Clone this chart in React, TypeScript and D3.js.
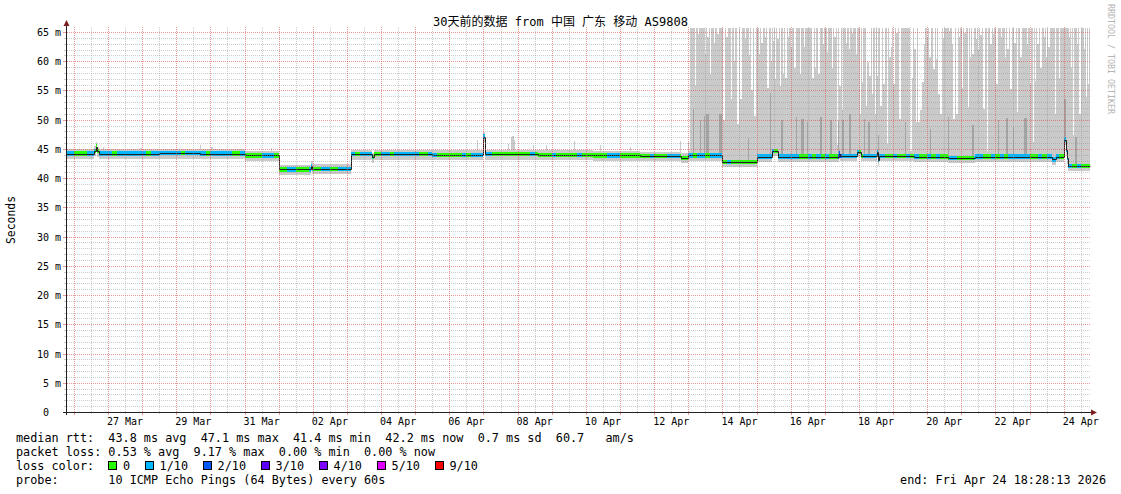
import { useEffect, useRef } from "react";
import * as d3 from "d3";

const W = 1121;
const H = 494;

const TITLE = "30天前的数据 from 中国 广东 移动 AS9808";
const START = "2026-03-25T18:28:13Z";
const END = "2026-04-24T18:28:13Z";

// Day numbers below are counted from 31 Mar 00:00 (1 = 1 Apr, -4 = 27 Mar)
const X_LABEL_DAYS = [
  "2026-03-27", "2026-03-29", "2026-03-31", "2026-04-02", "2026-04-04",
  "2026-04-06", "2026-04-08", "2026-04-10", "2026-04-12", "2026-04-14",
  "2026-04-16", "2026-04-18", "2026-04-20", "2026-04-22", "2026-04-24",
];
const Y_TICKS = [0, 5, 10, 15, 20, 25, 30, 35, 40, 45, 50, 55, 60, 65];

// median rtt in ms: [day, value from that day on]
const MEDIAN_STEPS: [number, number][] = [
  [-5.24, 44.2], [-4.40, 44.7], [-4.36, 45.4], [-4.31, 44.6], [-4.27, 44.2],
  [-2.5, 44.3], [-1.3, 44.2], [0.0, 43.9], [1.0, 41.5], [1.94, 42.1], [1.98, 41.6],
  [3.11, 44.1], [3.72, 43.6], [3.78, 44.1], [5.5, 44.0], [7.0, 47.1], [7.045, 44.1],
  [8.6, 44.0], [10.2, 43.9], [11.6, 43.8], [12.78, 43.5], [12.98, 43.9],
  [14.0, 42.8], [15.0, 43.7], [15.46, 44.7], [15.64, 43.7], [17.42, 44.2], [17.46, 43.8],
  [17.95, 44.5], [18.06, 43.8], [18.52, 44.5], [18.56, 43.1], [18.6, 43.8],
  [19.6, 43.7], [20.6, 43.5], [21.4, 43.7], [23.66, 43.2], [23.78, 43.7],
  [24.0, 46.6], [24.07, 44.8], [24.1, 43.4], [24.13, 42.1],
];

// lost pings (of 10) per 3-hour bucket, one string per day from 25 Mar
const LOSS_BY_DAY = [
  "11111111", "00011011", "10111111", "10111111", "10111110", "11111001", "00001110",
  "00110001", "00110011", "11011100", "11011111", "10011000", "00010111", "11000000",
  "00010000", "10000010", "00000111", "00000001", "00011100", "10110111", "01000000",
  "11110111", "11001010", "10021111", "01111100", "10010100", "10100110", "00011001",
  "01011111", "00101110", "11010000",
];
const LOSS_LEVELS = [0, 1, 2, 3, 4, 5, 9];
const LOSS_LABELS = ["0", "1/10", "2/10", "3/10", "4/10", "5/10", "9/10"];
const LOSS_COLORS = ["#26ff00", "#00b8ff", "#0059ff", "#5e00ff", "#7e00ff", "#dd00ff", "#ff0000"];

// outer smoke peaks in the quiet period: [day, max ms]
const SMOKE_BUMPS: [number, number][] = [
  [-4.36, 46.0], [-4.15, 45.4], [-3.06, 45.1], [-1.31, 45.6], [-0.98, 45.4], [0.77, 45.1],
  [1.97, 42.9], [6.81, 46.5], [7.0, 47.9], [7.71, 45.8], [7.81, 47.0], [7.85, 47.2],
  [7.89, 46.6], [8.45, 45.6], [8.83, 45.6], [9.65, 46.4], [10.4, 45.6], [11.29, 45.3],
  [12.75, 46.3], [12.98, 46.2],
];

// from this day the max ping is off the chart, except at these hours: [day, max ms]
const NOISY_FROM = 13.06;
const NOISY_DIPS: [number, number][] = [
  [13.19, 55.8], [13.28, 64.7], [13.48, 61.2], [13.56, 64.2], [13.63, 57.8], [13.75, 63.2],
  [13.85, 64.7], [14.03, 49.9], [14.12, 64.2], [14.24, 53.5], [14.33, 60.1], [14.44, 49.3],
  [14.53, 53.5], [14.65, 63.8], [14.77, 61.0], [14.85, 55.0], [14.94, 50.7], [15.06, 61.2],
  [15.14, 63.2], [15.24, 64.2], [15.32, 55.5], [15.41, 60.1], [15.47, 63.5], [15.53, 57.0],
  [15.61, 63.8], [15.68, 55.8], [15.77, 57.8], [15.84, 57.2], [15.92, 64.2],
  [16.01, 62.4], [16.11, 58.9], [16.26, 57.8], [16.38, 62.4], [16.63, 57.2], [16.71, 58.9],
  [16.81, 57.8], [16.94, 62.9], [17.06, 61.5], [17.2, 58.9], [17.28, 64.1], [17.35, 45.6],
  [17.43, 55.8], [17.49, 51.6], [17.61, 63.2], [17.7, 62.1], [17.79, 64.9], [17.91, 61.2],
  [18.02, 51.0], [18.08, 56.4], [18.2, 52.4], [18.25, 59.8], [18.3, 57.5], [18.37, 54.4],
  [18.46, 51.0], [18.53, 57.5], [18.63, 52.4], [18.71, 56.1], [18.82, 45.9], [18.89, 60.7],
  [18.92, 62.4], [19.01, 56.1], [19.1, 64.9], [19.18, 50.1], [19.5, 44.7], [19.53, 57.2],
  [19.62, 62.1], [19.67, 49.6], [19.74, 49.6], [19.8, 51.6], [19.85, 56.4], [19.89, 62.9],
  [19.98, 64.1], [20.06, 60.7], [20.18, 58.6], [20.26, 60.4], [20.33, 54.4], [20.38, 51.0],
  [20.45, 63.8], [20.63, 65.2], [20.73, 62.9], [20.77, 50.1], [20.85, 51.0], [20.92, 64.1],
  [21.02, 55.5], [21.09, 64.9], [21.19, 52.2], [21.25, 60.7], [21.32, 61.2], [21.42, 63.8],
  [21.48, 62.1], [21.56, 64.5], [21.64, 51.9], [21.75, 44.7], [21.85, 62.9], [21.93, 64.7],
  [22.02, 56.1], [22.16, 64.1], [22.27, 60.7], [22.35, 62.1], [22.44, 55.3], [22.55, 63.2],
  [22.63, 51.3], [22.73, 60.7], [22.92, 62.9], [23.0, 56.1], [23.09, 46.2], [23.16, 56.7],
  [23.23, 62.9], [23.31, 58.9], [23.41, 64.1], [23.47, 60.7], [23.55, 62.4], [23.73, 51.0],
  [23.85, 57.2], [24.14, 64.1], [24.21, 58.9], [24.27, 47.4], [24.39, 62.9], [24.46, 51.0],
  [24.58, 62.1], [24.64, 53.8], [24.7, 56.1],
];

// second smoke layer (pings 2..9) reaching up: [day, ms]
const INNER_SPIKES: [number, number][] = [
  [13.13, 51.8], [13.33, 49.9], [13.45, 50.7], [13.53, 51.0], [13.57, 51.0], [13.9, 51.0],
  [13.94, 51.0], [14.75, 46.9], [15.38, 54.6], [15.73, 49.9], [16.15, 50.4], [16.3, 50.2],
  [16.34, 50.2], [16.48, 49.6], [16.87, 50.4], [17.16, 49.9], [17.38, 49.8], [17.49, 49.9],
  [17.53, 49.9], [17.72, 51.0], [18.14, 50.2], [18.28, 49.6], [18.55, 47.4], [19.34, 49.6],
  [20.08, 48.4], [20.61, 50.4], [21.32, 49.1], [22.06, 49.9], [22.32, 50.3], [22.5, 48.8],
  [22.83, 50.3], [22.87, 50.3], [24.02, 53.5], [24.34, 47.1],
];

const STATS_RTT = "median rtt:  43.8 ms avg  47.1 ms max  41.4 ms min  42.2 ms now  0.7 ms sd  60.7   am/s";
const STATS_LOSS = "packet loss: 0.53 % avg  9.17 % max  0.00 % min  0.00 % now";
const PROBE = "probe:       10 ICMP Echo Pings (64 Bytes) every 60s";
const END_TEXT = "end: Fri Apr 24 18:28:13 2026";

const MONO = "'DejaVu Sans Mono', 'Noto Sans CJK SC', monospace";
const SMOKE_OUTER = "#cacaca";
const SMOKE_INNER = "#a4a4a4";
const GRID_MINOR = "rgba(143,143,143,0.45)";
const GRID_MAJOR = "rgba(222,79,79,0.6)";
const HOUR = 1 / 24;

function draw(el: SVGSVGElement) {
  const svg = d3.select(el);
  svg.selectAll("*").remove();

  const left = 66, right = 1090, bottom = 412, top = 28;
  const origin = Date.UTC(2026, 2, 31);
  const toDate = (d: number) => new Date(origin + d * 864e5);
  const toDay = (t: Date) => (t.getTime() - origin) / 864e5;
  const x = d3.scaleUtc().domain([new Date(START), new Date(END)]).range([left, right]);
  const y = d3.scaleLinear().domain([0, 65]).range([bottom, 32]);
  const px = (d: number) => Math.round(x(toDate(d)));
  const py = (v: number) => Math.max(top, Math.round(y(v)));
  const d0 = toDay(new Date(START));
  const d1 = toDay(new Date(END));

  const bisect = d3.bisector((s: [number, number]) => s[0]).right;
  const medianAt = (d: number) => MEDIAN_STEPS[Math.max(0, bisect(MEDIAN_STEPS, d) - 1)][1];
  const lossAt = (d: number) => {
    const i = Math.floor(d + 6);
    const row = LOSS_BY_DAY[i] ?? "0";
    return +(row[Math.floor((d + 6 - i) * row.length)] ?? "0");
  };
  const lossColor = (k: number) => LOSS_COLORS[Math.max(0, LOSS_LEVELS.findIndex((l) => l >= k))];

  // time spans where both the median and the loss stay the same
  const cuts = new Set<number>([d0, d1]);
  MEDIAN_STEPS.forEach(([d]) => cuts.add(d));
  LOSS_BY_DAY.forEach((row, i) => {
    for (let b = 0; b < row.length; b++) cuts.add(-6 + i + b / row.length);
  });
  const edges = [...cuts].filter((d) => d >= d0 && d <= d1).sort((a, b) => a - b);
  const spans = d3.pairs(edges).map(([a, b]) => {
    const mid = (a + b) / 2;
    return { a, b, m: medianAt(mid), loss: lossAt(mid) };
  });

  svg.append("rect").attr("width", W).attr("height", H).attr("fill", "#ffffff");

  const data = svg.append("g").attr("shape-rendering", "crispEdges");

  // outer smoke band around the median
  data.append("g").selectAll("rect").data(spans).join("rect")
    .attr("x", (s) => px(s.a))
    .attr("width", (s) => Math.max(0, px(s.b) - px(s.a)))
    .attr("y", (s) => py(s.m + 0.75))
    .attr("height", (s) => py(s.m - 0.95) - py(s.m + 0.75))
    .attr("fill", SMOKE_OUTER);

  data.append("g").selectAll("rect").data(SMOKE_BUMPS).join("rect")
    .attr("x", (p) => px(p[0]))
    .attr("width", (p) => Math.max(1, px(p[0] + HOUR) - px(p[0])))
    .attr("y", (p) => py(p[1]))
    .attr("height", (p) => py(medianAt(p[0])) - py(p[1]))
    .attr("fill", SMOKE_OUTER);

  // noisy period: smoke up to the top with white dips
  const nt = new Set<number>([NOISY_FROM, d1]);
  NOISY_DIPS.forEach(([d]) => { nt.add(d); nt.add(d + HOUR); });
  MEDIAN_STEPS.forEach(([d]) => nt.add(d));
  const ts = [...nt].filter((t) => t >= NOISY_FROM && t <= d1).sort((a, b) => a - b);
  const noisy = ts.map((t, i) => {
    const mid = (t + (ts[i + 1] ?? t)) / 2;
    const hits = NOISY_DIPS.filter(([d]) => d <= mid && mid < d + HOUR).map((p) => p[1]);
    return { t, top: hits.length ? (d3.min(hits) as number) : 70, bot: medianAt(mid) - 0.95 };
  });
  data.append("path")
    .datum(noisy)
    .attr("fill", SMOKE_OUTER)
    .attr("d", d3.area<{ t: number; top: number; bot: number }>()
      .x((p) => px(p.t))
      .y0((p) => py(p.bot))
      .y1((p) => py(p.top))
      .curve(d3.curveStepAfter));

  data.append("g").selectAll("rect").data(INNER_SPIKES).join("rect")
    .attr("x", (p) => px(p[0]))
    .attr("width", (p) => Math.max(1, px(p[0] + HOUR) - px(p[0])))
    .attr("y", (p) => py(p[1]))
    .attr("height", (p) => py(medianAt(p[0])) - py(p[1]))
    .attr("fill", SMOKE_INNER);

  // thin median line, then the loss-coloured band on top of it
  const steps: [number, number][] = MEDIAN_STEPS.map(([d, v]) => [Math.max(d, d0), v]);
  steps.push([d1, MEDIAN_STEPS[MEDIAN_STEPS.length - 1][1]]);
  svg.append("path")
    .datum(steps)
    .attr("fill", "none")
    .attr("stroke", "#202020")
    .attr("stroke-width", 1)
    .attr("d", d3.line<[number, number]>()
      .x((p) => px(p[0]) + 0.5)
      .y((p) => Math.round(y(p[1])) + 0.5)
      .curve(d3.curveStepAfter));

  data.append("g").selectAll("rect").data(spans).join("rect")
    .attr("x", (s) => px(s.a))
    .attr("width", (s) => Math.max(0, px(s.b) - px(s.a)))
    .attr("y", (s) => Math.round(y(s.m + 0.37)))
    .attr("height", (s) => Math.round(y(s.m - 0.37)) - Math.round(y(s.m + 0.37)))
    .attr("fill", (s) => lossColor(s.loss));

  // grid, drawn over the graph like rrdtool does
  const grid = svg.append("g").attr("shape-rendering", "crispEdges");
  const hMinor = d3.range(1, 66).filter((v) => v % 5 !== 0);
  const hMajor = Y_TICKS.filter((v) => v > 0);
  const days = d3.utcDay.range(new Date(START), new Date(END));
  const vMajor = days.map((t) => x(t));
  const vMinor = days.map((t) => x(d3.utcHour.offset(t, 12))).filter((v) => v < right);
  vMinor.unshift(x(d3.utcHour.offset(days[0], -12)));

  const hLine = (vals: number[], color: string, tick: number) => {
    vals.forEach((v) => {
      const yy = Math.round(y(v)) + 0.5;
      grid.append("line").attr("x1", left + 1).attr("x2", right).attr("y1", yy).attr("y2", yy)
        .style("stroke", color).style("stroke-width", "1px").style("stroke-dasharray", "1 1");
      grid.append("line").attr("x1", left - tick).attr("x2", left).attr("y1", yy).attr("y2", yy)
        .style("stroke", color).style("stroke-width", "1px");
    });
  };
  const vLine = (vals: number[], color: string, tick: number) => {
    vals.filter((v) => v > left).forEach((v) => {
      const xx = Math.round(v) + 0.5;
      grid.append("line").attr("x1", xx).attr("x2", xx).attr("y1", top - 1).attr("y2", bottom)
        .style("stroke", color).style("stroke-width", "1px").style("stroke-dasharray", "1 1");
      grid.append("line").attr("x1", xx).attr("x2", xx).attr("y1", bottom).attr("y2", bottom + tick)
        .style("stroke", color).style("stroke-width", "1px");
    });
  };
  hLine(hMinor, GRID_MINOR, 2);
  vLine(vMinor, GRID_MINOR, 2);
  hLine(hMajor, GRID_MAJOR, 3);
  vLine(vMajor, GRID_MAJOR, 3);

  // axes with arrows
  const axes = svg.append("g").attr("shape-rendering", "crispEdges");
  axes.append("line").attr("x1", left - 3).attr("x2", right + 3).attr("y1", bottom + 0.5).attr("y2", bottom + 0.5)
    .attr("stroke", "#202020");
  axes.append("line").attr("x1", left + 0.5).attr("x2", left + 0.5).attr("y1", bottom + 3).attr("y2", top - 4)
    .attr("stroke", "#202020");
  svg.append("path").attr("fill", "#801f1f")
    .attr("d", `M${right + 1},${bottom - 2.5}L${right + 7},${bottom + 0.5}L${right + 1},${bottom + 3.5}Z`);
  svg.append("path").attr("fill", "#801f1f")
    .attr("d", `M${left - 2.5},${top - 2}L${left + 0.5},${top - 8}L${left + 3.5},${top - 2}Z`);

  // text helper keeping runs of spaces
  const txt = (parent: d3.Selection<SVGGElement, unknown, null, undefined>, s: string, tx: number, ty: number) =>
    parent.append("text")
      .attr("x", tx).attr("y", ty)
      .attr("xml:space", "preserve")
      .style("white-space", "pre")
      .text(s);

  const text = svg.append("g").attr("font-family", MONO).attr("fill", "#000");
  const yl = text.append("g").attr("font-size", 10).attr("text-anchor", "end");
  Y_TICKS.forEach((v) => txt(yl, v === 0 ? "0  " : `${v} m`, 61, Math.round(y(v)) + 4));

  const fmt = d3.utcFormat("%d %b");
  text.selectAll("text.xl").data(X_LABEL_DAYS.map((s) => new Date(`${s}T12:00:00Z`))).join("text")
    .attr("class", "xl")
    .attr("x", (t) => x(t))
    .attr("y", 425)
    .attr("text-anchor", "middle")
    .attr("font-size", 10)
    .text((t) => fmt(d3.utcHour.offset(t, -12)));

  const title = text.append("g").attr("font-size", 12).attr("text-anchor", "middle");
  txt(title, TITLE, 560.5, 26);

  text.append("text")
    .attr("transform", `translate(15,${(top + bottom) / 2}) rotate(-90)`)
    .attr("text-anchor", "middle").attr("font-size", 11.4)
    .text("Seconds");

  svg.append("text")
    .attr("transform", "translate(1108,4) rotate(90)")
    .attr("font-family", MONO).attr("font-size", 8.3).attr("fill", "#b4b4b4")
    .text("RRDTOOL / TOBI OETIKER");

  // legend
  const lg = text.append("g").attr("font-size", 11.8);
  txt(lg, STATS_RTT, 16, 442);
  txt(lg, STATS_LOSS, 16, 456);
  txt(lg, "loss color:", 16, 470);
  txt(lg, PROBE, 16, 484);
  txt(lg, END_TEXT, 1106, 484).attr("text-anchor", "end");

  let bx = 108;
  LOSS_LABELS.forEach((label, i) => {
    lg.append("rect")
      .attr("x", bx + 0.5).attr("y", 461.5).attr("width", 8).attr("height", 8)
      .attr("fill", LOSS_COLORS[i]).attr("stroke", "#000").attr("stroke-width", 1)
      .attr("shape-rendering", "crispEdges");
    txt(lg, label, bx + 15, 470);
    bx += 15 + label.length * 7.12 + 14.5;
  });
}

export default function App() {
  const ref = useRef<SVGSVGElement>(null);
  useEffect(() => {
    if (ref.current) draw(ref.current);
  }, []);
  return (
    <svg
      ref={ref}
      width={W}
      height={H}
      style={{ position: "absolute", left: 0, top: 0, background: "#fff" }}
    />
  );
}
